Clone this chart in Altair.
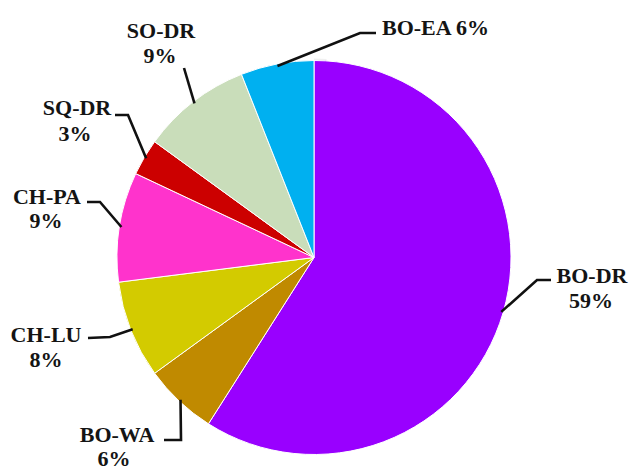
import math
import altair as alt
import pandas as pd

# ---- data ----
labels = ["BO-DR", "BO-WA", "CH-LU", "CH-PA", "SQ-DR", "SO-DR", "BO-EA"]
values = [59, 6, 8, 9, 3, 9, 6]
colors = ["#9900FF", "#C08A00", "#D3CB00", "#FF33CC", "#CC0000", "#C9DDBA", "#00B0F0"]

# ---- layout (pixels) ----
W, H = 633, 470
CX, CY, R = 314, 257.5, 197
# label text anchors: (x, baseline y, second-line x, second-line y, align)
text_pos = {
    "BO-DR": (592, 283, 591, 308, "center"),
    "BO-WA": (117, 442, 114, 466, "center"),
    "CH-LU": (46, 342, 46, 367, "center"),
    "CH-PA": (47, 204, 46, 228, "center"),
    "SQ-DR": (77, 115, 75, 141, "center"),
    "SO-DR": (161, 38, 160, 63, "center"),
    "BO-EA": (382, 35, None, None, "left"),
}
# leader line bend points after the slice-edge point
leader_bends = {
    "BO-DR": [(537, 280), (551, 280)],
    "BO-WA": [(181, 440), (164, 440)],
    "CH-LU": [(110, 337), (88, 338)],
    "CH-PA": [(100, 202), (87, 202)],
    "SQ-DR": [(128, 115), (115, 115)],
    "SO-DR": [(184, 68)],
    "BO-EA": [(360, 33), (376, 33)],
}

total = sum(values)
pie_df = pd.DataFrame({"label": labels, "value": values, "idx": list(range(len(labels)))})

# leader lines: start on the pie edge at each slice's mid angle
rows = []
cum = 0
for lab, v in zip(labels, values):
    mid = (cum + v / 2) / total * 2 * math.pi
    cum += v
    pts = [(CX + (R - 2) * math.sin(mid), CY - (R - 2) * math.cos(mid))] + leader_bends[lab]
    for k, (px, py) in enumerate(pts):
        rows.append({"label": lab, "k": k, "px": px, "py": py})
lead_df = pd.DataFrame(rows)

trows = []
for lab, v in zip(labels, values):
    x1, y1, x2, y2, al = text_pos[lab]
    if x2 is None:
        trows.append({"t": f"{lab} {v}%", "px": x1, "py": y1, "al": al})
    else:
        trows.append({"t": lab, "px": x1, "py": y1, "al": al})
        trows.append({"t": f"{v}%", "px": x2, "py": y2, "al": al})
text_df = pd.DataFrame(trows)

xs = alt.Scale(domain=[0, W])
ys = alt.Scale(domain=[0, H], reverse=True)

shadow = alt.Chart(pd.DataFrame({"v": [1]})).mark_arc(
    radius=R + 3, color="#ececec", opacity=0.8
).encode(theta=alt.Theta("v:Q"), x=alt.value(CX), y=alt.value(CY + 1))

pie = alt.Chart(pie_df).mark_arc(radius=R, stroke="#ffffff", strokeWidth=1).encode(
    theta=alt.Theta("value:Q", stack=True),
    color=alt.Color("label:N", scale=alt.Scale(domain=labels, range=colors), legend=None),
    order=alt.Order("idx:Q"),
    x=alt.value(CX),
    y=alt.value(CY),
)

leaders = alt.Chart(lead_df).mark_line(color="#111111", strokeWidth=2.6).encode(
    x=alt.X("px:Q", scale=xs, axis=None),
    y=alt.Y("py:Q", scale=ys, axis=None),
    detail="label:N",
    order="k:Q",
)

font = dict(font="Liberation Serif", fontWeight="bold", fontSize=22, color="#141414", baseline="alphabetic")
text_c = alt.Chart(text_df[text_df.al == "center"]).mark_text(align="center", **font).encode(
    x=alt.X("px:Q", scale=xs, axis=None),
    y=alt.Y("py:Q", scale=ys, axis=None),
    text="t:N",
)
text_l = alt.Chart(text_df[text_df.al == "left"]).mark_text(align="left", **font).encode(
    x=alt.X("px:Q", scale=xs, axis=None),
    y=alt.Y("py:Q", scale=ys, axis=None),
    text="t:N",
)

chart = alt.layer(shadow, pie, leaders, text_c, text_l).properties(
    width=W, height=H, padding=0, autosize=alt.AutoSizeParams(type="none")
).configure_view(stroke=None)

chart.save("out.html", embed_options={"renderer": "svg", "actions": False})
